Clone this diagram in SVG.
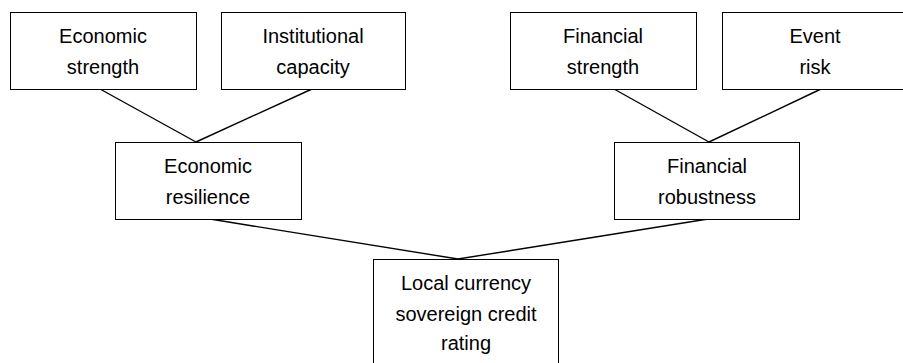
<svg xmlns="http://www.w3.org/2000/svg" width="903" height="363" viewBox="0 0 903 363">
<style>
rect{fill:#fff;stroke:#000;stroke-width:1}
text{font-family:"Liberation Sans",Arial,sans-serif;font-size:20px;fill:#000;text-anchor:middle}
.c line{stroke:#000;stroke-width:1.4}
</style>
<rect x="0" y="0" width="903" height="363" style="stroke:none"/>
<g class="c" id="connectors">
<line x1="100" y1="89" x2="196" y2="142"/>
<line x1="312" y1="89" x2="196" y2="142"/>
<line x1="614" y1="89" x2="709" y2="142"/>
<line x1="821" y1="89" x2="709" y2="142"/>
<line x1="210" y1="219" x2="458" y2="259"/>
<line x1="708" y1="219" x2="458" y2="259"/>
</g>
<g id="economic-strength"><rect x="10.5" y="12.5" width="186" height="77"/><text x="103" y="43">Economic</text><text x="103" y="74">strength</text></g>
<g id="institutional-capacity"><rect x="221.5" y="12.5" width="184" height="77"/><text x="313" y="43">Institutional</text><text x="313" y="74">capacity</text></g>
<g id="financial-strength"><rect x="510.5" y="12.5" width="186" height="77"/><text x="603" y="43">Financial</text><text x="603" y="74">strength</text></g>
<g id="event-risk"><rect x="722.5" y="12.5" width="186" height="77"/><text x="815" y="43">Event</text><text x="815" y="74">risk</text></g>
<g id="economic-resilience"><rect x="115.5" y="142.5" width="186" height="77"/><text x="208" y="173">Economic</text><text x="208" y="204">resilience</text></g>
<g id="financial-robustness"><rect x="614.5" y="142.5" width="185" height="77"/><text x="707" y="173">Financial</text><text x="707" y="204">robustness</text></g>
<g id="rating"><rect x="373.5" y="259.5" width="185" height="110"/><text x="466" y="290">Local currency</text><text x="466" y="320.5">sovereign credit</text><text x="466" y="350">rating</text></g>
</svg>
